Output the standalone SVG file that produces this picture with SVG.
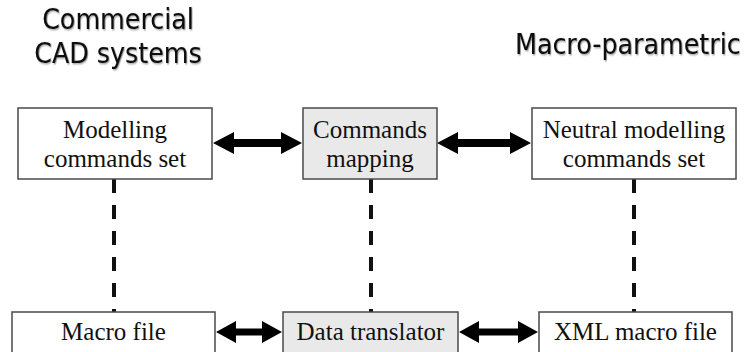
<svg xmlns="http://www.w3.org/2000/svg" width="751" height="352" viewBox="0 0 751 352">
  <defs>
    <filter id="soft" x="-5%" y="-20%" width="110%" height="140%">
      <feDropShadow dx="1" dy="1" stdDeviation="0.8" flood-color="#000" flood-opacity="0.45"/>
    </filter>
  </defs>
  <style>
    .box { fill: #ffffff; stroke: #4a4a4a; stroke-width: 1.5; }
    .box.grey { fill: #e9e9e9; }
    .lbl { font-family: "Liberation Serif", "Times New Roman", serif; font-size: 25px; fill: #111; text-anchor: middle; }
    .title { font-family: "DejaVu Sans", Verdana, sans-serif; font-size: 29px; fill: #111; filter: url(#soft); }
    .dash { stroke: #111; stroke-width: 4; stroke-dasharray: 14 12; fill: none; }
    .arrow { fill: #000; }
  </style>
  <rect width="751" height="352" fill="#ffffff"/>

  <!-- column headings (condensed horizontally) -->
  <g id="heading-cad">
    <text class="title" text-anchor="middle" transform="translate(118,29) scale(0.875,1)">Commercial</text>
    <text class="title" text-anchor="middle" transform="translate(118,63) scale(0.875,1)">CAD systems</text>
  </g>
  <g id="heading-macro">
    <text class="title" transform="translate(515,54) scale(0.875,1)">Macro-parametric</text>
  </g>

  <!-- connectors -->
  <g id="connectors">
    <line class="dash" x1="114" y1="179" x2="114" y2="312"/>
    <line class="dash" x1="371" y1="179" x2="371" y2="312"/>
    <line class="dash" x1="634" y1="179" x2="634" y2="312"/>
    <polygon class="arrow" points="213,143 234,132 234,139 281,139 281,132 302,143 281,154 281,147 234,147 234,154"/>
    <polygon class="arrow" points="437,143 458,132 458,139 510,139 510,132 531,143 510,154 510,147 458,147 458,154"/>
    <polygon class="arrow" points="216,332 236,321 236,328.5 262,328.5 262,321 282,332 262,343 262,335.5 236,335.5 236,343"/>
    <polygon class="arrow" points="459,332 479,321 479,328.5 518,328.5 518,321 538,332 518,343 518,335.5 479,335.5 479,343"/>
  </g>

  <!-- nodes -->
  <g id="modelling-commands">
    <rect class="box" x="18" y="108" width="194" height="71"/>
    <text class="lbl" x="115" y="138">Modelling</text>
    <text class="lbl" x="115" y="167">commands set</text>
  </g>
  <g id="commands-mapping">
    <rect class="box grey" x="303" y="108" width="134" height="71"/>
    <text class="lbl" x="370" y="138">Commands</text>
    <text class="lbl" x="370" y="167">mapping</text>
  </g>
  <g id="neutral-commands">
    <rect class="box" x="532" y="108" width="204" height="71"/>
    <text class="lbl" x="634" y="138">Neutral modelling</text>
    <text class="lbl" x="634" y="167">commands set</text>
  </g>
  <g id="macro-file">
    <rect class="box" x="12" y="312" width="203" height="45"/>
    <text class="lbl" x="113.5" y="340">Macro file</text>
  </g>
  <g id="data-translator">
    <rect class="box grey" x="283" y="312" width="175" height="45"/>
    <text class="lbl" x="370.5" y="340">Data translator</text>
  </g>
  <g id="xml-macro-file">
    <rect class="box" x="539" y="312" width="193" height="45"/>
    <text class="lbl" x="635.5" y="340">XML macro file</text>
  </g>
</svg>
